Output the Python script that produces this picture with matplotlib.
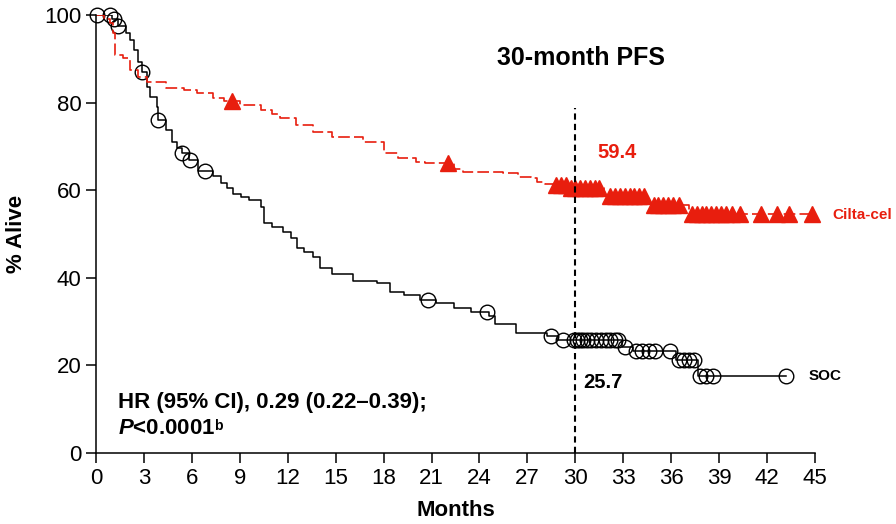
import numpy as np
import matplotlib
matplotlib.use("Agg")
from matplotlib import pyplot as plt

plt.rcParams['font.family'] = ['Liberation Sans', 'DejaVu Sans']
plt.rcParams['mathtext.fontset'] = 'custom'
plt.rcParams['mathtext.rm'] = 'Liberation Sans:bold'
plt.rcParams['mathtext.it'] = 'Liberation Sans:bold:italic'

RED = '#e81e0e'

# SOC arm: step times (months) and % alive after each step
soc_t = [0, 1.0, 1.4, 1.9, 2.1, 2.4, 2.6, 2.9, 3.2, 3.4, 3.8, 3.9, 4.4, 4.75, 5.1,
         5.4, 5.8, 6.4, 7.3, 7.8, 8.2, 8.6, 9.1, 9.6, 10.3, 10.5, 11.0, 11.7, 12.2,
         12.6, 13.0, 13.6, 14.0, 14.8, 16.1, 17.6, 18.4, 19.3, 20.3, 21.3, 22.4,
         23.5, 24.6, 25.0, 26.3, 28.2, 28.9, 29.6, 32.9, 33.6, 36.3, 37.7]
soc_s = [100, 99, 97.5, 96, 94.3, 92, 89.3, 87, 83.6, 81.3, 79, 76, 73.7, 71, 69.6,
         68.5, 66.8, 64.4, 63.2, 61.6, 60.5, 59.2, 58.5, 57.8, 56.2, 52.5, 51.5, 50.5, 49.2,
         46.8, 46.0, 44.7, 42.2, 40.9, 39.3, 38.8, 36.8, 36.0, 35.0, 34.3, 33.2,
         32.3, 31.3, 29.5, 27.4, 26.7, 25.9, 25.7, 24.2, 23.2, 21.2, 17.6]
soc_end = 43.2
soc_cens = [0.06, 0.9, 1.1, 1.4, 2.9, 3.9, 5.4, 5.9, 6.8, 20.8, 24.5, 28.5, 29.2,
            29.9, 30.1, 30.3, 30.5, 30.7, 31.0, 31.3, 31.6, 31.9, 32.2, 32.5, 32.7,
            33.1, 33.8, 34.2, 34.6, 35.0, 35.9, 36.5, 36.8, 37.1, 37.4, 37.8, 38.2,
            38.6, 43.2]

# Cilta-cel arm
cilta_t = [0, 0.5, 0.9, 1.06, 1.2, 1.7, 2.1, 2.6, 3.2, 4.4, 5.5, 6.3, 7.3, 8.0, 9.0,
           10.3, 11.0, 11.5, 12.5, 13.6, 14.8, 16.7, 18.0, 18.9, 20.0, 20.6, 22.4,
           23.0, 25.5, 26.4, 27.2, 27.6, 28.1, 28.6, 29.6, 31.8, 34.5, 37.1]
cilta_s = [100, 99, 98.2, 95.9, 90.9, 90.2, 87.4, 85.8, 84.7, 83.3, 82.8, 82.2, 81.0,
           80.4, 79.5, 78.3, 77.4, 76.5, 75.0, 73.3, 72.1, 71.1, 68.5, 67.4, 66.4,
           66.2, 64.8, 64.2, 64.0, 63.0, 62.8, 61.9, 61.5, 61.3, 60.6, 58.7, 56.7, 54.6]
cilta_end = 44.8
cilta_cens = [8.5, 22.0, 28.8, 29.1, 29.4, 29.7, 30.0, 30.3, 30.6, 30.9, 31.2, 31.5,
              32.2, 32.5, 32.8, 33.1, 33.4, 33.7, 34.0, 34.3, 34.9, 35.2, 35.5, 35.8,
              36.1, 36.5, 37.3, 37.6, 37.9, 38.2, 38.5, 38.8, 39.1, 39.4, 39.8, 40.3,
              41.6, 42.6, 43.4, 44.8]

xticks = np.arange(0, 46, 3)
yticks = np.arange(0, 101, 20)


def at(t_steps, s_steps, tq):
    idx = np.searchsorted(t_steps, tq, side='right') - 1
    return np.asarray(s_steps)[idx]


fig = plt.figure(figsize=(8.96, 5.24), dpi=100)
ax = fig.add_axes([96/896, 1-453/524, 719/896, 438/524])

# SOC
ax.step(soc_t + [soc_end], soc_s + [soc_s[-1]], where='post', color='black', lw=1.1)
ax.plot(soc_cens, at(soc_t, soc_s, soc_cens), 'o', ms=10.5, mfc='none',
        mec='black', mew=1.0, clip_on=False)

# Cilta-cel
ax.step(cilta_t + [cilta_end], cilta_s + [cilta_s[-1]], where='post', color=RED,
        lw=1.2, dashes=(7, 2.5))
ax.plot(cilta_cens, at(cilta_t, cilta_s, cilta_cens), '^', ms=11, color=RED,
        mec=RED, clip_on=False)

ax.vlines(30, 0, 78.8, colors='black', linestyles=(0, (3, 2)), lw=1.5)

ax.set_xlim(0, 45)
ax.set_ylim(0, 100)
ax.set_xticks(xticks)
ax.set_yticks(yticks)
ax.tick_params(labelsize=16, length=7, width=1.1, direction='out')
for s in ['top', 'right']:
    ax.spines[s].set_visible(False)
for s in ['left', 'bottom']:
    ax.spines[s].set_linewidth(1.1)
ax.set_xlabel('Months', fontsize=16, fontweight='bold', labelpad=8)
ax.set_ylabel('% Alive', fontsize=16, fontweight='bold', labelpad=12)

ax.text(30.35, 90.2, '30-month PFS', fontsize=18, fontweight='bold', ha='center', va='center')
ax.text(31.35, 68.7, '59.4', fontsize=14.5, fontweight='bold', color=RED, va='center')
ax.text(30.5, 16.2, '25.7', fontsize=14.5, fontweight='bold', va='center')
ax.text(44.6, 17.6, 'SOC', fontsize=11, fontweight='bold', va='center', clip_on=False)
ax.text(46.1, 54.3, 'Cilta-cel', fontsize=11, fontweight='bold', color=RED,
        va='center', clip_on=False)
ax.text(1.38, 11.6, 'HR (95% CI), 0.29 (0.22\u20130.39);', fontsize=16,
        fontweight='bold', va='center')
ptxt = ax.text(1.38, 5.7, r'$\mathit{P}$<0.0001', fontsize=16,
               fontweight='bold', va='center')
ax.annotate('b', xy=(1.0, 0.92), xycoords=ptxt, xytext=(-0.8, 0),
            textcoords='offset points', fontsize=10, fontweight='bold',
            ha='left', va='top')

fig.savefig('out.png', dpi=100)
